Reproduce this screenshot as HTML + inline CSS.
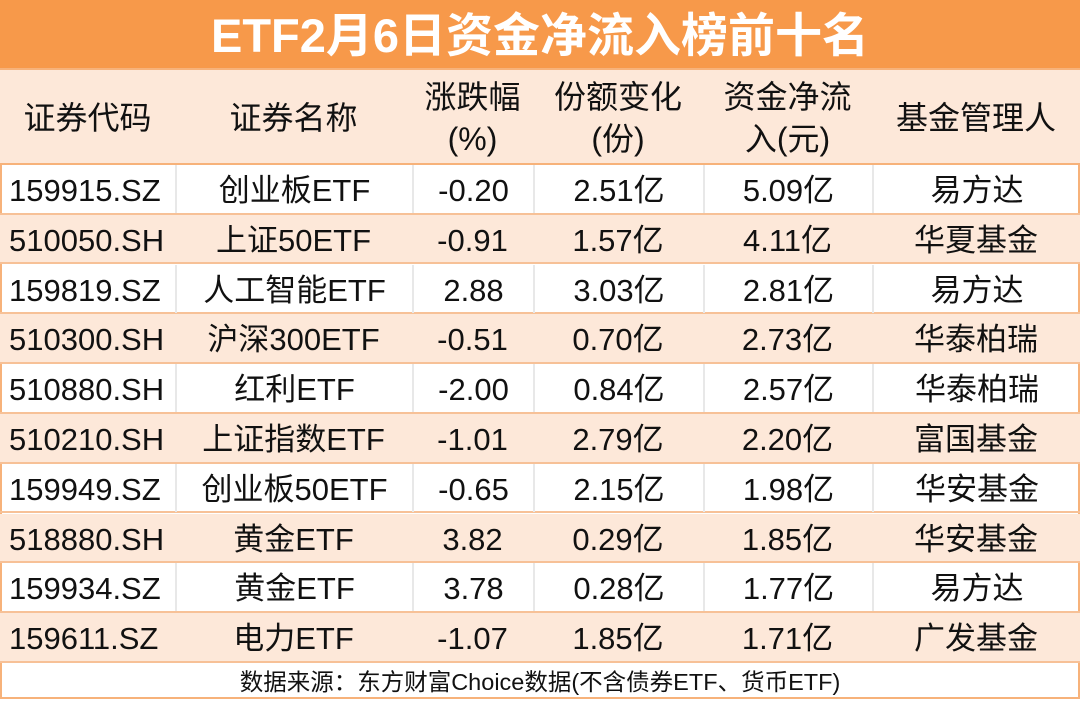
<!DOCTYPE html>
<html><head><meta charset="utf-8">
<style>
*{margin:0;padding:0;box-sizing:border-box}
body{width:1080px;height:699px;background:#fff;font-family:"Liberation Sans","Noto Sans CJK SC",sans-serif;color:#111;position:relative;overflow:hidden}
#frame{position:absolute;left:0;top:0;width:1080px;height:699px;border:2px solid #f7b27a}
#title{position:absolute;left:0;top:0;width:1080px;height:70px;background:#f7994a;color:#fff;font-size:47px;font-weight:bold;text-align:center;line-height:72px;border-bottom:2px solid #f7b27a}
#head{position:absolute;left:0;top:70px;width:1080px;height:95px;background:#fde8d9;border-bottom:2px solid #f7b27a}
.hc{position:absolute;top:0;height:95px;display:flex;align-items:center;justify-content:center;text-align:center;font-size:32px;line-height:42px}
.row{position:absolute;left:0;width:1080px;height:49.7px;border-bottom:2px solid #f7c197}
.row.alt{background:#fde8d9}
.c{position:absolute;top:0;height:48px;line-height:52px;text-align:center;font-size:31px;white-space:nowrap;overflow:visible}
.c.first{text-align:left;padding-left:9px}
.row:not(.alt) .c+.c{border-left:2px solid #e8e8e8}
#foot{position:absolute;left:0;top:663px;width:1080px;height:34px;text-align:center;font-size:23.5px;line-height:38px}
</style></head><body>
<div id="frame"></div>
<div id="title">ETF2月6日资金净流入榜前十名</div>
<div id="head">
<div class="hc" style="left:0;width:175px">证券代码</div>
<div class="hc" style="left:175px;width:237px">证券名称</div>
<div class="hc" style="left:412px;width:121px">涨跌幅<br>(%)</div>
<div class="hc" style="left:533px;width:170px">份额变化<br>(份)</div>
<div class="hc" style="left:703px;width:169px">资金净流<br>入(元)</div>
<div class="hc" style="left:872px;width:208px">基金管理人</div>
</div>
<div id="rows"></div>
<div id="foot">数据来源：东方财富Choice数据(不含债券ETF、货币ETF)</div>
<script>
const codes=["159915.SZ","510050.SH","159819.SZ","510300.SH","510880.SH","510210.SH","159949.SZ","518880.SH","159934.SZ","159611.SZ"];
const names=["创业板ETF","上证50ETF","人工智能ETF","沪深300ETF","红利ETF","上证指数ETF","创业板50ETF","黄金ETF","黄金ETF","电力ETF"];
const changes=["-0.20","-0.91","2.88","-0.51","-2.00","-1.01","-0.65","3.82","3.78","-1.07"];
const shares=["2.51亿","1.57亿","3.03亿","0.70亿","0.84亿","2.79亿","2.15亿","0.29亿","0.28亿","1.85亿"];
const inflows=["5.09亿","4.11亿","2.81亿","2.73亿","2.57亿","2.20亿","1.98亿","1.85亿","1.77亿","1.71亿"];
const managers=["易方达","华夏基金","易方达","华泰柏瑞","华泰柏瑞","富国基金","华安基金","华安基金","易方达","广发基金"];
const cols=[[0,175],[175,237],[412,121],[533,170],[703,169],[872,208]];
const colNames=['code-cell','name-cell','change-cell','shares-cell','inflow-cell','manager-cell'];
const host=document.getElementById('rows');
codes.forEach((c,i)=>{
  const r=document.createElement('div');
  r.className='row'+(i%2?' alt':'');
  r.style.top=(165+i*49.8)+'px';
  
  
  const vals=[c,names[i],changes[i],shares[i],inflows[i],managers[i]];
  vals.forEach((v,j)=>{
    const d=document.createElement('div');
    d.className='c'+(j===0?' first':'');
    d.style.left=cols[j][0]+'px';d.style.width=cols[j][1]+'px';
    d.textContent=v;
    
    
    r.appendChild(d);
  });
  host.appendChild(r);
});
</script>
</body></html>
